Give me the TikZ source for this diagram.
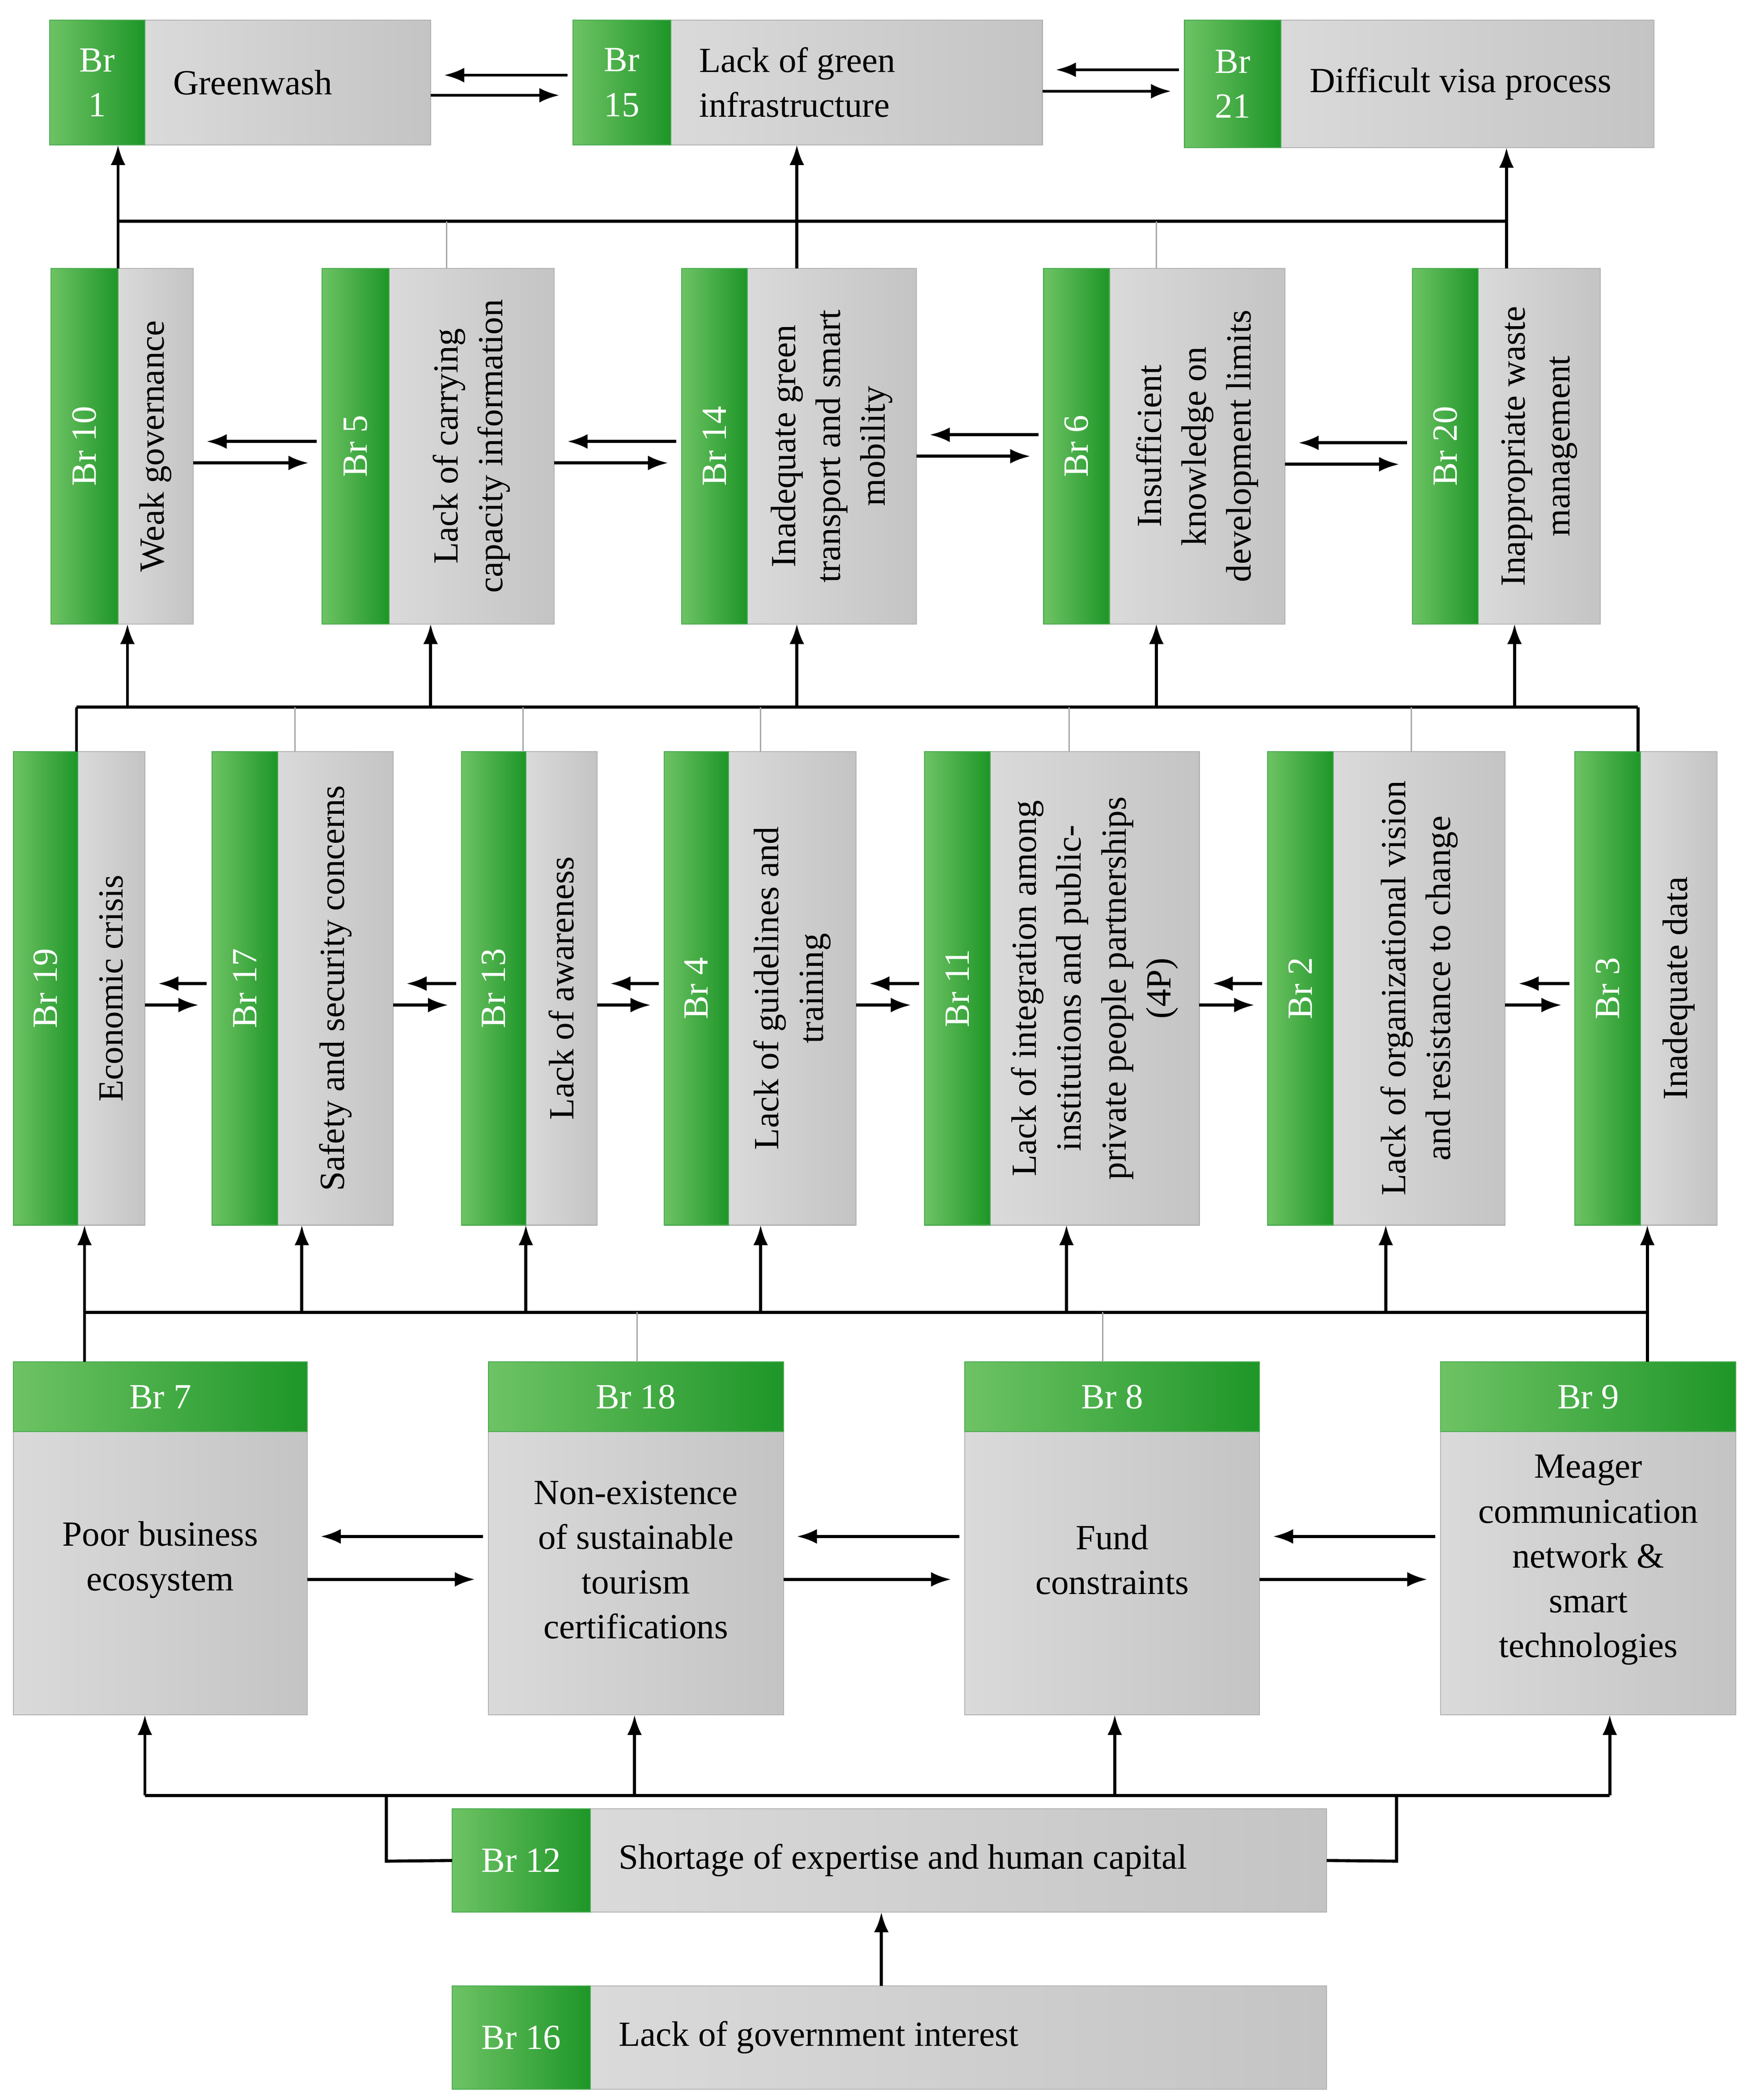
\documentclass[tikz,border=0pt]{standalone}
\usepackage{fontspec}
\setmainfont{Liberation Serif}
\usetikzlibrary{fit,calc,arrows.meta}
\definecolor{grnL}{RGB}{110,195,100}
\definecolor{grnD}{RGB}{30,150,40}
\definecolor{gryL}{RGB}{218,218,218}
\definecolor{gryD}{RGB}{196,196,196}
\tikzset{
  outline/.style={inner sep=0pt, outer sep=0pt},
  graybox/.style={outline, draw=gray!60, left color=gryL, right color=gryD},
  greenbox/.style={outline, draw=grnD!80, left color=grnL, right color=grnD},
  btxt/.style={font=\fontsize{15}{19}\selectfont, align=center},
  blab/.style={btxt, text=white},
  conn/.style={line width=1.3pt, -{Latex[length=3mm,width=2.2mm]}},
  bus/.style={line width=1.3pt},
  tick/.style={gray!70, line width=0.6pt}
}
% horizontal box: name, x1, xg, x2, y1, y2, label, text
\newcommand\brH[8]{%
  \node[outline, fit={(#2,#5)(#4,#6)}] (#1) {};
  \node[graybox, fit={(#3,#5)(#4,#6)}] (#1t) {};
  \node[greenbox, fit={(#2,#5)(#3,#6)}] (#1g) {};
  \node[blab] at (#1g.center) {#7};
  \node[btxt, anchor=west, align=left] at ($(#1g.east)+(15,0)$) {#8};
}
% vertical box: name, x1, xg, x2, y1, y2, label, text
\newcommand\brV[8]{%
  \node[outline, fit={(#2,#5)(#4,#6)}] (#1) {};
  \node[graybox, fit={(#3,#5)(#4,#6)}] (#1t) {};
  \node[greenbox, fit={(#2,#5)(#3,#6)}] (#1g) {};
  \node[blab, rotate=90] at (#1g.center) {#7};
  \node[btxt, rotate=90] at (#1t.center) {#8};
}
% box with header: name, x1, x2, text
\newcommand\brT[4]{%
  \node[outline, fit={(#2,1015)(#3,1278)}] (#1) {};
  \node[graybox, fit={(#2,1067)(#3,1278)}] (#1t) {};
  \node[greenbox, fit={(#2,1015)(#3,1067)}] (#1g) {};
  \node[btxt] at ($(#1t.center)+(0,-10)$) {#4};
}
% pair of arrows between two boxes
\newcommand\pair[4]{%
  \draw[conn] ($(#2.west|-0,#3)+(-4,0)$) -- ($(#1.east|-0,#3)+(10,0)$);
  \draw[conn] ($(#1.east|-0,#4)$) -- ($(#2.west|-0,#4)+(-10,0)$);
}
\begin{document}
\begin{tikzpicture}[x=0.2mm, y=-0.2mm]
\useasboundingbox (0,0) rectangle (1305,1565);
% top row
\brH{b1}{37}{108}{321}{15}{108}{Br\\1}{Greenwash}
\brH{b15}{427}{500}{777}{15}{108}{Br\\15}{Lack of green\\infrastructure}
\brH{b21}{883}{955}{1233}{15}{110}{Br\\21}{Difficult visa process}
% second row
\brV{b10}{38}{88}{144}{200}{465}{Br 10}{Weak governance}
\brV{b5}{240}{290}{413}{200}{465}{Br 5}{Lack of carrying\\capacity information}
\brV{b14}{508}{557}{683}{200}{465}{Br 14}{Inadequate green\\transport and smart\\mobility}
\brV{b6}{778}{827}{958}{200}{465}{Br 6}{Insufficient\\knowledge on\\development limits}
\brV{b20}{1053}{1102}{1193}{200}{465}{Br 20}{Inappropriate waste\\management}
% third row
\brV{b19}{10}{58}{108}{560}{913}{Br 19}{Economic crisis}
\brV{b17}{158}{207}{293}{560}{913}{Br 17}{Safety and security concerns}
\brV{b13}{344}{392}{445}{560}{913}{Br 13}{Lack of awareness}
\brV{b4}{495}{543}{638}{560}{913}{Br 4}{Lack of guidelines and\\training}
\brV{b11}{689}{738}{894}{560}{913}{Br 11}{Lack of integration among\\institutions and public-\\private people partnerships\\(4P)}
\brV{b2}{945}{994}{1122}{560}{913}{Br 2}{Lack of organizational vision\\and resistance to change}
\brV{b3}{1174}{1223}{1280}{560}{913}{Br 3}{Inadequate data}
% fourth row
\brT{b7}{10}{229}{Poor business\\ecosystem}
\brT{b18}{364}{584}{Non-existence\\of sustainable\\tourism\\certifications}
\brT{b8}{719}{939}{Fund\\constraints}
\brT{b9}{1074}{1294}{Meager\\communication\\network \&\\smart\\technologies}
\node[blab] at (b7g) {Br 7};
\node[blab] at (b18g) {Br 18};
\node[blab] at (b8g) {Br 8};
\node[blab] at (b9g) {Br 9};
% bottom
\brH{b12}{337}{440}{989}{1348}{1425}{Br 12}{Shortage of expertise and human capital}
\brH{b16}{337}{440}{989}{1480}{1557}{Br 16}{Lack of government interest}

% pairs of arrows
\pair{b1}{b15}{56}{71}
\pair{b15}{b21}{52}{68}
\pair{b10}{b5}{329}{345}
\pair{b5}{b14}{329}{345}
\pair{b14}{b6}{324}{340}
\pair{b6}{b20}{330}{346}
\pair{b19}{b17}{733}{749}
\pair{b17}{b13}{733}{749}
\pair{b13}{b4}{733}{749}
\pair{b4}{b11}{733}{749}
\pair{b11}{b2}{733}{749}
\pair{b2}{b3}{733}{749}
\pair{b7}{b18}{1145}{1177}
\pair{b18}{b8}{1145}{1177}
\pair{b8}{b9}{1145}{1177}

% bottom links
\draw[conn] (b16.north-|657,0) -- (b12.south-|657,0);
\draw[bus] (b12.west) -- (288,1387) -- (288,1338);
\draw[bus] (b12.east) -- (1041,1387) -- (1041,1338);
\draw[bus] (108,1338) -- (1200,1338);
\foreach \bx/\xx in {b7/108, b18/473, b8/831, b9/1200}
  \draw[conn] (\xx,1338) -- (\bx.south-|\xx,0);

% row four to row three
\draw[bus] (63,978) -- (1228,978);
\draw[tick] (b18.north-|475,0) -- (475,978);
\draw[tick] (b8.north-|822,0) -- (822,978);
\draw[bus] (b7.north-|63,0) -- (63,978);
\draw[bus] (b9.north-|1228,0) -- (1228,978);
\foreach \bx/\xx in {b19/63, b17/225, b13/392, b4/567, b11/795, b2/1033, b3/1228}
  \draw[conn] (\xx,978) -- (\bx.south-|\xx,0);

% row three to row two
\draw[bus] (57,527) -- (1221,527);
\foreach \bx/\xx in {b17/220, b13/390, b4/567, b11/797, b2/1052}
  \draw[tick] (\bx.north-|\xx,0) -- (\xx,527);
\draw[bus] (b19.north-|57,0) -- (57,527);
\draw[bus] (b3.north-|1221,0) -- (1221,527);
\foreach \bx/\xx in {b10/95, b5/321, b14/594, b6/862, b20/1129}
  \draw[conn] (\xx,527) -- (\bx.south-|\xx,0);

% row two to top row
\draw[bus] (88,165) -- (1123,165);
\draw[tick] (b5.north-|333,0) -- (333,165);
\draw[tick] (b6.north-|862,0) -- (862,165);
\draw[conn] (b10.north-|88,0) -- (b1.south-|88,0);
\draw[conn] (b14.north-|594,0) -- (b15.south-|594,0);
\draw[conn] (b20.north-|1123,0) -- (b21.south-|1123,0);
\end{tikzpicture}
\end{document}
